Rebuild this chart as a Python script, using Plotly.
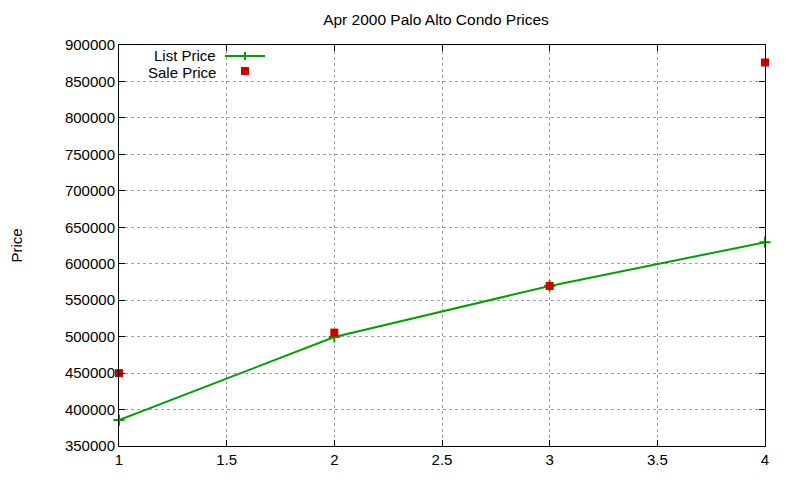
import plotly.graph_objects as go

x_vals = [1, 2, 3, 4]
list_price = [385500, 499500, 569500, 629500]
sale_price = [450000, 505500, 569500, 876000]
x_ticks = [1, 1.5, 2, 2.5, 3, 3.5, 4]
y_ticks = list(range(350000, 900001, 50000))

GREEN = "#00a000"
RED = "#cc0000"
FONT = "Liberation Sans, Arial, sans-serif"
FS = 15

# page body has an 8px default margin; compensate
OFF = 8

fig = go.Figure()
fig.add_trace(go.Scatter(
    x=x_vals, y=list_price, mode="lines+markers", name="List Price",
    line=dict(color=GREEN, width=2),
    marker=dict(symbol="cross-thin", size=8, line=dict(color=GREEN, width=2), color=GREEN),
    cliponaxis=False, showlegend=False))
fig.add_trace(go.Scatter(
    x=x_vals, y=sale_price, mode="markers", name="Sale Price",
    marker=dict(symbol="square", size=8, color=RED),
    cliponaxis=False, showlegend=False))

axis_common = dict(
    showline=True, linecolor="black", linewidth=1, mirror="allticks",
    ticks="inside", ticklen=6, tickcolor="black",
    showgrid=True, gridcolor="#a0a0a0", griddash="3px,3px", gridwidth=1,
    zeroline=False, tickfont=dict(family=FONT, size=FS, color="black"),
)
fig.update_xaxes(range=[1, 4], tickvals=x_ticks,
                 ticktext=[str(v) if v % 1 else str(int(v)) for v in x_ticks], **axis_common)
fig.update_yaxes(range=[350000, 900000], tickvals=y_ticks,
                 ticktext=[str(v) for v in y_ticks], **axis_common)

# gnuplot-style legend (text right aligned, sample to the right)
fig.add_annotation(xref="paper", yref="paper", x=0, y=1, xshift=99, yshift=-10,
                   text="List Price", showarrow=False, xanchor="right", yanchor="middle",
                   font=dict(family=FONT, size=FS, color="black"))
fig.add_annotation(xref="paper", yref="paper", x=0, y=1, xshift=99, yshift=-27,
                   text="Sale Price", showarrow=False, xanchor="right", yanchor="middle",
                   font=dict(family=FONT, size=FS, color="black"))
fig.add_shape(type="line", xref="paper", yref="paper", xsizemode="pixel", ysizemode="pixel",
              xanchor=0, yanchor=1, x0=106, x1=146, y0=-11, y1=-11,
              line=dict(color=GREEN, width=2))
fig.add_shape(type="line", xref="paper", yref="paper", xsizemode="pixel", ysizemode="pixel",
              xanchor=0, yanchor=1, x0=126, x1=126, y0=-7, y1=-15,
              line=dict(color=GREEN, width=2))
fig.add_shape(type="rect", xref="paper", yref="paper", xsizemode="pixel", ysizemode="pixel",
              xanchor=0, yanchor=1, x0=122, x1=130, y0=-22, y1=-30,
              line=dict(width=0), fillcolor=RED)

fig.add_annotation(xref="paper", yref="paper", x=0, y=0.5, xshift=-103,
                   text="Price", textangle=-90, showarrow=False, xanchor="center",
                   font=dict(family=FONT, size=FS, color="black"))

W, H = 800 - OFF, 480 - OFF
fig.update_layout(
    width=W, height=H,
    margin=dict(l=119 - OFF, r=W + OFF - 765, t=45 - OFF, b=H + OFF - 448),
    paper_bgcolor="white", plot_bgcolor="white",
    title=dict(text="Apr 2000 Palo Alto Condo Prices", x=(436 - OFF) / W, xanchor="center",
               y=1 - (20 - OFF) / H, yanchor="middle",
               font=dict(family=FONT, size=15.5, color="black")),
)

fig.write_html("out.html")
